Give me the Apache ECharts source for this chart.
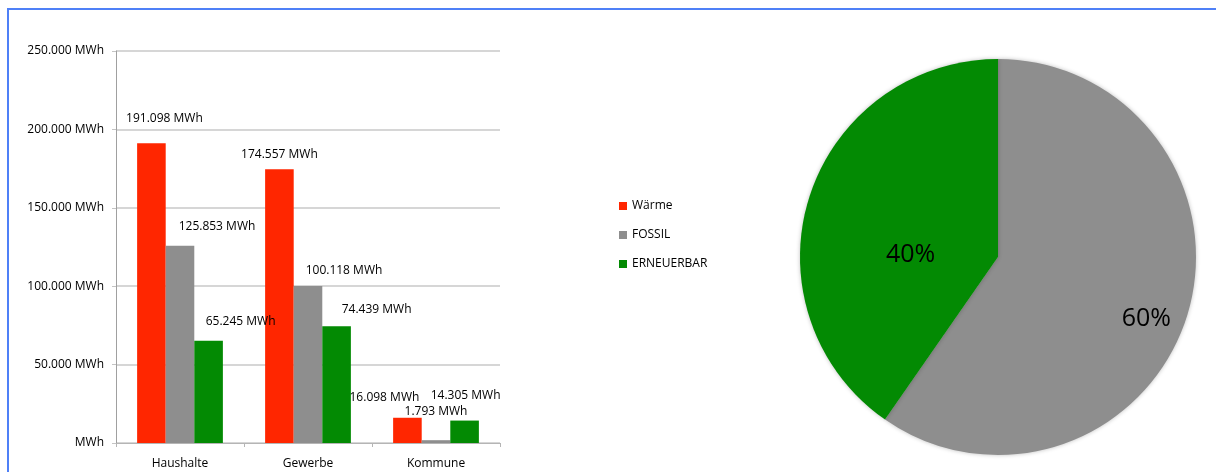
<!DOCTYPE html>
<html>
<head>
<meta charset="utf-8">
<script src="https://cdn.jsdelivr.net/npm/echarts@6/dist/echarts.min.js"></script>
<style>
  html, body { margin: 0; padding: 0; background: #fff; }
  .wrap { position: relative; width: 1216px; height: 472px; overflow: hidden; }
  .frame {
    position: absolute; left: 7px; top: 8px; right: -10px; bottom: -10px;
    border-left: 2px solid #4f80f7; border-top: 2px solid #4f80f7;
  }
  #chart { position: absolute; left: 0; top: 0; width: 1216px; height: 472px; }
</style>
</head>
<body>
<div class="wrap">
  <div class="frame"></div>
  <div id="chart"></div>
</div>
<script>
// categories + values (MWh)
const categories = ["Haushalte", "Gewerbe", "Kommune"];
const waerme = [191098, 174557, 16098];
const fossil = [125853, 100118, 1793];
const erneuerbar = [65245, 74439, 14305];
const yTicks = [0, 50000, 100000, 150000, 200000, 250000];

const colors = {
  "Wärme": "#ff2600",
  "FOSSIL": "#8e8e8e",
  "ERNEUERBAR": "#038a03",
};

// label nudges per bar (dx, dy), the source app placed them a bit loosely
const labelShift = {
  "Wärme": [[13, -15], [0, -5], [-23, -10]],
  "FOSSIL": [[37, -9], [36, -5], [0, -19]],
  "ERNEUERBAR": [[32, -9], [40, -7], [1, -15]],
};

const fmt = (v) => String(v).replace(/\B(?=(\d{3})+(?!\d))/g, ".");
const sum = (arr) => arr.reduce((a, b) => a + b, 0);

const font = "Open Sans";
const fs = 12;
const ink = "#000";

const barSeries = (name, values) => ({
  name,
  type: "bar",
  barGap: 0,
  barCategoryGap: "33%",
  itemStyle: { color: colors[name] },
  data: values.map((v, i) => ({
    value: v,
    label: { offset: labelShift[name][i] },
  })),
  label: {
    show: true,
    position: "top",
    distance: 4,
    color: ink,
    fontFamily: font,
    fontSize: fs,
    formatter: (p) => fmt(p.value) + " MWh",
  },
});

const chart = echarts.init(document.getElementById("chart"));

const option = {
  animation: false,
  textStyle: { fontFamily: font },
  grid: {
    left: 116,
    right: 716,
    top: 51,
    bottom: 29,
    containLabel: false,
  },
  legend: {
    orient: "vertical",
    left: 614,
    top: 195,
    itemWidth: 8,
    itemHeight: 8,
    itemGap: 17,
    icon: "rect",
    data: ["Wärme", "FOSSIL", "ERNEUERBAR"],
    textStyle: { color: ink, fontFamily: font, fontSize: fs },
  },
  xAxis: {
    type: "category",
    data: categories,
    axisLine: { lineStyle: { color: "#b5b5b5", width: 1 } },
    axisTick: { show: true, length: 4, lineStyle: { color: "#b5b5b5" } },
    axisLabel: { color: ink, fontFamily: font, fontSize: fs, margin: 15 },
  },
  yAxis: {
    type: "value",
    min: yTicks[0],
    max: yTicks[yTicks.length - 1],
    interval: yTicks[1] - yTicks[0],
    axisLine: { show: true, lineStyle: { color: "#a0a0a0", width: 1 } },
    axisTick: { show: true, length: 4, lineStyle: { color: "#c4c4c4" } },
    splitLine: { lineStyle: { color: "#c8c8c8", width: 1.5 } },
    axisLabel: {
      color: ink,
      fontFamily: font,
      fontSize: fs,
      margin: 12,
      formatter: (v) => (v === 0 ? "MWh" : fmt(v) + " MWh"),
    },
  },
  series: [
    barSeries("Wärme", waerme),
    barSeries("FOSSIL", fossil),
    barSeries("ERNEUERBAR", erneuerbar),
    {
      name: "Anteil",
      type: "pie",
      center: [998, 257],
      radius: [0, 198],
      startAngle: 90,
      clockwise: true,
      percentPrecision: 0,
      silent: true,
      itemStyle: {
        color: (p) => colors[p.name],
        shadowBlur: 4,
        shadowColor: "rgba(0,0,0,0.25)",
      },
      label: {
        show: true,
        position: "inside",
        formatter: "{d}%",
        color: ink,
        fontFamily: "Open Sans",
        fontSize: 25,
      },
      labelLine: { show: false },
      labelLayout: (p) => (p.dataIndex === 0 ? { dx: 51, dy: 31 } : { dx: 10, dy: 28 }),
      data: [
        { name: "FOSSIL", value: sum(fossil) },
        { name: "ERNEUERBAR", value: sum(erneuerbar) },
      ],
    },
  ],
};

chart.setOption(option);
</script>
</body>
</html>
